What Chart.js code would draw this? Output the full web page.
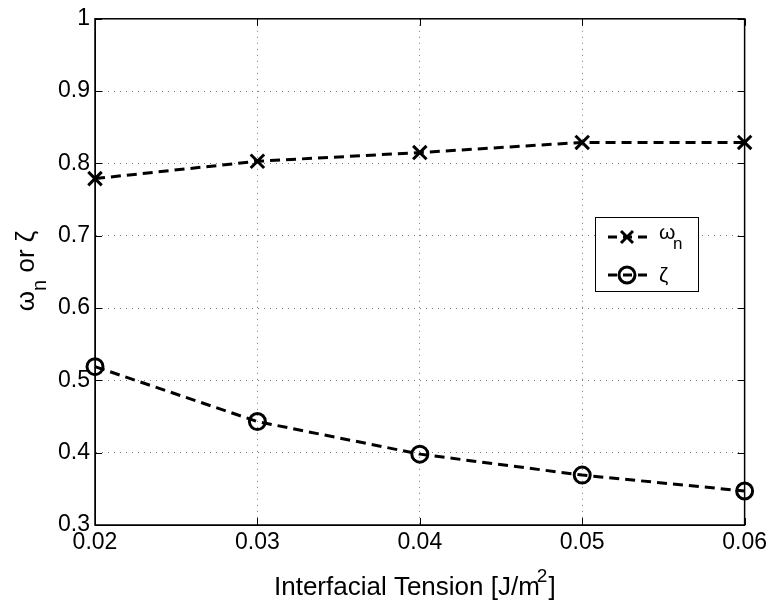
<!DOCTYPE html>
<html>
<head>
<meta charset="utf-8">
<script src="https://cdn.jsdelivr.net/npm/chart.js@4/dist/chart.umd.min.js"></script>
<style>
  html, body { margin: 0; padding: 0; background: #fff; }
  #wrap { width: 771px; height: 605px; }
</style>
</head>
<body>
<div id="wrap"><canvas id="chart" width="771" height="605"></canvas></div>
<script>
// data
const tension = [0.02, 0.03, 0.04, 0.05, 0.06];
const omegaN = [0.779, 0.803, 0.815, 0.829, 0.829];
const zeta = [0.519, 0.443, 0.398, 0.369, 0.347];
const xTicks = [0.02, 0.03, 0.04, 0.05, 0.06];
const yTicks = [0.3, 0.4, 0.5, 0.6, 0.7, 0.8, 0.9, 1];

const FONT = '"Liberation Sans", Arial, Helvetica, sans-serif';

// frame, inward ticks, axis titles with sub/superscripts and legend
const decorations = {
  id: "decorations",
  afterDraw(chart) {
    const ctx = chart.ctx;
    const a = chart.chartArea;
    const xs = chart.scales.x;
    const ys = chart.scales.y;
    ctx.save();
    ctx.strokeStyle = "#000";
    ctx.lineWidth = 1.5;
    ctx.setLineDash([]);
    ctx.strokeRect(a.left, a.top, a.right - a.left, a.bottom - a.top);

    // inward ticks on all four sides
    const tl = 7;
    ctx.lineWidth = 1;
    ctx.beginPath();
    xTicks.forEach((v) => {
      const px = Math.round(xs.getPixelForValue(v)) + 0.5;
      ctx.moveTo(px, a.bottom); ctx.lineTo(px, a.bottom - tl);
      ctx.moveTo(px, a.top); ctx.lineTo(px, a.top + tl);
    });
    yTicks.forEach((v) => {
      const py = Math.round(ys.getPixelForValue(v)) + 0.5;
      ctx.moveTo(a.left, py); ctx.lineTo(a.left + tl, py);
      ctx.moveTo(a.right, py); ctx.lineTo(a.right - tl, py);
    });
    ctx.stroke();

    ctx.fillStyle = "#000";
    ctx.textBaseline = "alphabetic";

    // x axis title
    const main = "Interfacial Tension [J/m";
    ctx.font = "26px " + FONT;
    const wMain = ctx.measureText(main).width;
    ctx.font = "19px " + FONT;
    const wSup = ctx.measureText("2").width;
    ctx.font = "26px " + FONT;
    const wEnd = ctx.measureText("]").width;
    let x0 = (a.left + a.right) / 2 - (wMain + wSup + wEnd) / 2 - 4;
    ctx.textAlign = "left";
    ctx.fillText(main, x0, 595);
    ctx.font = "19px " + FONT;
    ctx.fillText("2", x0 + wMain - 3, 582);
    ctx.font = "26px " + FONT;
    ctx.fillText("]", x0 + wMain + wSup - 2, 595);

    // y axis title (rotated)
    ctx.save();
    ctx.translate(34, 271);
    ctx.rotate(-Math.PI / 2);
    ctx.font = "26px " + FONT;
    const w1 = ctx.measureText("\u03c9").width;
    const w3 = ctx.measureText(" or \u03b6").width;
    ctx.font = "20px " + FONT;
    const w2 = ctx.measureText("n").width;
    let s = -(w1 + w2 + w3) / 2;
    ctx.font = "26px " + FONT;
    ctx.fillText("\u03c9", s, 0);
    ctx.font = "20px " + FONT;
    ctx.fillText("n", s + w1, 12);
    ctx.font = "26px " + FONT;
    ctx.fillText(" or \u03b6", s + w1 + w2, 0);
    ctx.restore();

    // legend box
    const lx = 595, ly = 217, lw = 103, lh = 74;
    ctx.fillStyle = "#fff";
    ctx.fillRect(lx, ly, lw, lh);
    ctx.strokeStyle = "#000";
    ctx.lineWidth = 1;
    ctx.strokeRect(lx + 0.5, ly + 0.5, lw, lh);

    const rows = [
      { y: 237, style: "x" },
      { y: 275, style: "o" },
    ];
    rows.forEach((r) => {
      ctx.strokeStyle = "#000";
      ctx.lineWidth = 3;
      ctx.setLineDash([9, 6]);
      ctx.beginPath();
      ctx.moveTo(608, r.y);
      ctx.lineTo(648, r.y);
      ctx.stroke();
      ctx.setLineDash([]);
      ctx.beginPath();
      if (r.style === "x") {
        const d = 6;
        ctx.moveTo(627 - d, r.y - d); ctx.lineTo(627 + d, r.y + d);
        ctx.moveTo(627 - d, r.y + d); ctx.lineTo(627 + d, r.y - d);
      } else {
        ctx.arc(627, r.y, 8, 0, Math.PI * 2);
      }
      ctx.stroke();
    });
    ctx.fillStyle = "#000";
    ctx.font = "21px " + FONT;
    ctx.fillText("\u03c9", 659, 239);
    ctx.font = "17px " + FONT;
    ctx.fillText("n", 673, 249);
    ctx.font = "21px " + FONT;
    ctx.fillText("\u03b6", 659, 282);
    ctx.restore();
  },
};

const ctx = document.getElementById("chart").getContext("2d");
const chart = new Chart(ctx, {
  type: "line",
  data: {
    datasets: [
      {
        label: "\u03c9n",
        data: tension.map((t, i) => ({ x: t, y: omegaN[i] })),
        borderColor: "#000",
        borderWidth: 3,
        borderDash: [10, 6],
        pointStyle: "crossRot",
        pointRadius: 9.5,
        pointBorderWidth: 3,
        pointBorderColor: "#000",
        pointBackgroundColor: "transparent",
        tension: 0,
        clip: false,
      },
      {
        label: "\u03b6",
        data: tension.map((t, i) => ({ x: t, y: zeta[i] })),
        borderColor: "#000",
        borderWidth: 3,
        borderDash: [10, 6],
        pointStyle: "circle",
        pointRadius: 8,
        pointBorderWidth: 3,
        pointBorderColor: "#000",
        pointBackgroundColor: "transparent",
        tension: 0,
        clip: false,
      },
    ],
  },
  options: {
    responsive: false,
    animation: false,
    devicePixelRatio: 1,
    layout: { padding: { top: 13, right: 26, left: 0, bottom: 0 } },
    plugins: {
      legend: { display: false },
      tooltip: { enabled: false },
    },
    scales: {
      x: {
        type: "linear",
        min: 0.02,
        max: 0.06,
        afterBuildTicks: (scale) => {
          scale.ticks = xTicks.map((v) => ({ value: v }));
        },
        afterFit: (scale) => {
          scale.height = 80;
        },
        ticks: {
          color: "#000",
          font: { family: FONT, size: 23 },
          padding: 4,
          maxRotation: 0,
          callback: (v) => v.toFixed(2),
        },
        grid: { color: "#777", lineWidth: 1, drawTicks: false },
        border: { display: true, color: "#000", dash: [1, 5] },
      },
      y: {
        min: 0.3,
        max: 1,
        afterBuildTicks: (scale) => {
          scale.ticks = yTicks.map((v) => ({ value: v }));
        },
        afterFit: (scale) => {
          scale.width = 95;
        },
        ticks: {
          color: "#000",
          font: { family: FONT, size: 23 },
          padding: 5,
          callback: (v) => (v === 1 ? "1" : v.toFixed(1)),
        },
        grid: { color: "#777", lineWidth: 1, drawTicks: false },
        border: { display: true, color: "#000", dash: [1, 5] },
      },
    },
  },
  plugins: [decorations],
});
</script>
</body>
</html>
